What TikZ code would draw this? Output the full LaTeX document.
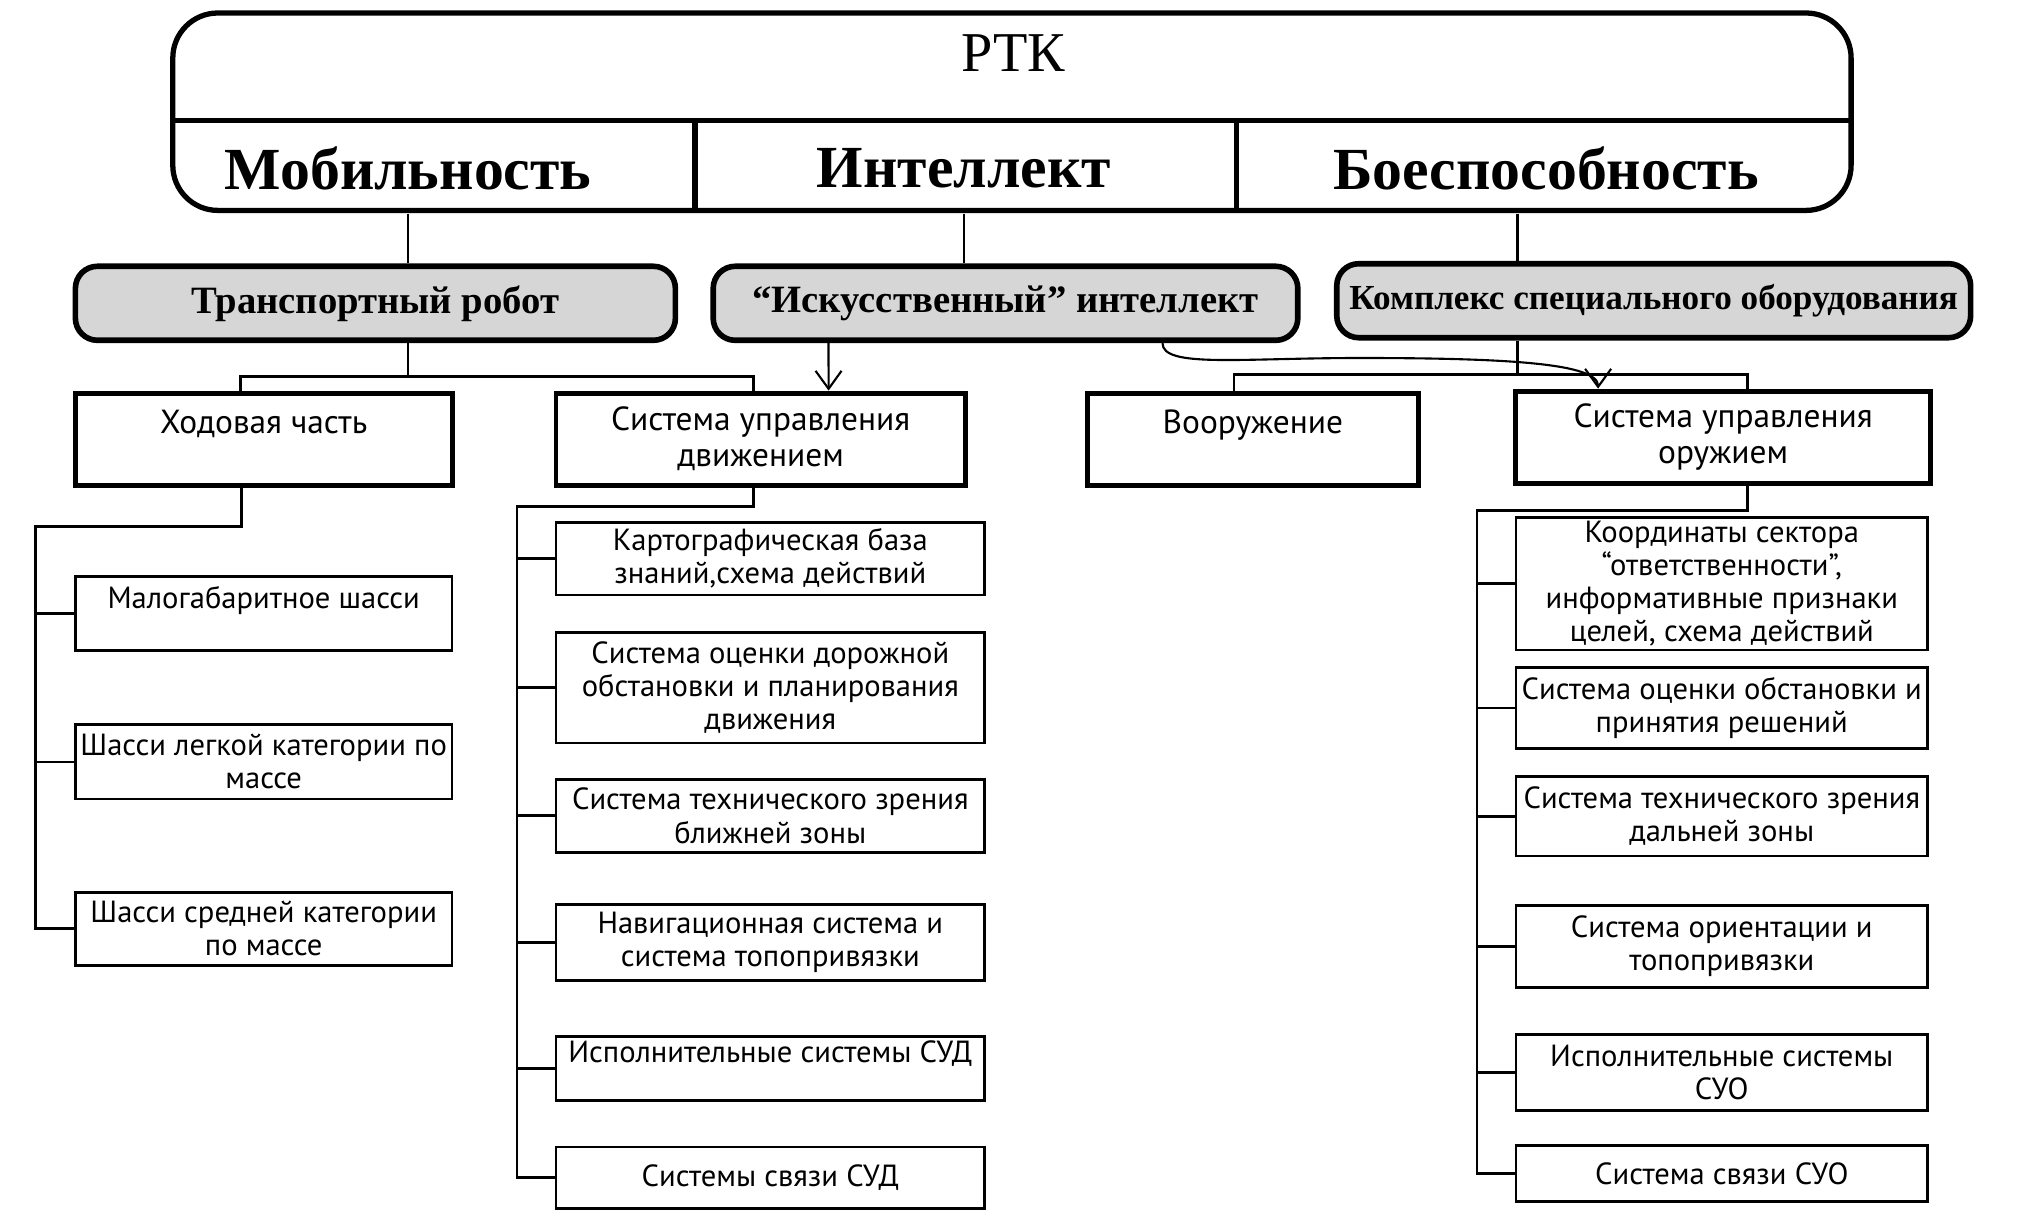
\documentclass[tikz,border=0pt]{standalone}
\usepackage{fontspec}
\setmainfont{Liberation Serif}
\newfontfamily\boxfont{PT Sans}
\usetikzlibrary{arrows.meta}
\begin{document}
\begin{tikzpicture}[
  frame/.style={line width=1.5pt},
  cat/.style={font=\bfseries\fontsize{17}{20}\selectfont, minimum height=0.896cm, inner sep=0pt},
  grp/.style={draw, line width=1.6pt, rounded corners=0.22cm, fill=gray!32, font=\bfseries\fontsize{11}{13}\selectfont, minimum height=0.74cm, inner sep=2pt},
  sys/.style={draw, line width=1.4pt, align=center, font=\boxfont\fontsize{9.5}{10.2}\selectfont, minimum height=0.92cm},
  sub/.style={draw, line width=0.8pt, align=center, font=\boxfont\fontsize{8.7}{9.4}\selectfont, inner sep=1pt},
  line/.style={line width=0.8pt},
  hand/.style={line width=0.6pt, -{Straight Barb[length=1.8mm, width=2.6mm]}}
]
\useasboundingbox (0,0) rectangle (20.37,-12.107);

% top block
\draw[frame, rounded corners=0.45cm] (1.728,-0.13) rectangle (18.511,-2.104);
\draw[frame] (1.728,-1.208) -- (18.511,-1.208);
\draw[frame] (6.95,-1.208) -- (6.95,-2.104);
\draw[frame] (12.366,-1.208) -- (12.366,-2.104);
\node[font=\fontsize{16}{19}\selectfont] (rtk) at (10.13,-0.53) {РТК};
\node[cat] (mob) at (4.08,-1.68) {Мобильность};
\node[cat] (intel) at (9.639,-1.68) {Интеллект};
\node[cat] (boe) at (15.46,-1.68) {Боеспособность};

% groups
\node[grp, minimum width=6.0cm] (trans) at (3.754,-3.033) {Транспортный робот};
\node[grp, minimum width=5.846cm] (ai) at (10.055,-3.033) {“Искусственный” интеллект};
\node[grp, minimum width=6.339cm, font=\bfseries\fontsize{10}{12}\selectfont] (kompl) at (16.537,-3.007) {Комплекс специального оборудования};

\coordinate (tj) at (4.08,-3.767);
\coordinate (kj) at (15.173,-3.741);
\draw[line] (mob.south) -- (mob.south |- trans.north);
\draw[line] (intel.south) -- (intel.south |- ai.north);
\draw[line] (boe.south -| kj) -- (kompl.north -| kj);

% systems
\node[sys, minimum width=3.767cm] (hod) at (2.637,-4.397) {Ходовая часть\\\phantom{Х}};
\node[sys, minimum width=4.092cm] (sud) at (7.606,-4.391) {Система управления\\движением};
\node[sys, minimum width=3.312cm] (vor) at (12.529,-4.397) {Вооружение\\\phantom{В}};
\node[sys, minimum width=4.144cm] (suo) at (17.231,-4.371) {Система управления\\оружием};

\draw[line] (trans.south -| tj) -- (tj);
\draw[line] ([xshift=-0.23cm]hod.north) |- (tj) -| ([xshift=-0.07cm]sud.north);
\draw[line] (kompl.south -| kj) -- (kj);
\draw[line] ([xshift=-0.19cm]vor.north) |- (kj) -| ([xshift=0.24cm]suo.north);

\draw[hand] ([xshift=-1.77cm]ai.south) -- ([xshift=0.68cm]sud.north);
\draw[hand] ([xshift=1.57cm]ai.south) .. controls +(0,-0.25) and +(-1.2,0) .. (13.6,-3.58)
  .. controls +(1.5,0) and +(0,0.25) .. ([xshift=-1.25cm]suo.north);

% chassis
\node[sub, minimum width=3.767cm, minimum height=0.74cm] (h1) at (2.637,-6.138) {Малогабаритное шасси\\\phantom{М}};
\node[sub, minimum width=3.767cm, minimum height=0.74cm] (h2) at (2.637,-7.619) {Шасси легкой категории по\\массе};
\node[sub, minimum width=3.767cm, minimum height=0.727cm] (h3) at (2.637,-9.288) {Шасси средней категории\\по массе};

\coordinate (hj) at (0.351,-5.261);
\draw[line] ([xshift=-0.22cm]hod.south) |- (hj) |- (h3.west);
\foreach \n in {h1,h2} \draw[line] (hj |- \n.west) -- (\n.west);

% motion control
\node[sub, minimum width=4.287cm, minimum height=0.727cm] (d1) at (7.703,-5.586) {Картографическая база\\знаний,схема действий};
\node[sub, minimum width=4.287cm, minimum height=1.104cm] (d2) at (7.703,-6.878) {Система оценки дорожной\\обстановки и планирования\\движения};
\node[sub, minimum width=4.287cm, minimum height=0.727cm] (d3) at (7.703,-8.158) {Система технического зрения\\ближней зоны};
\node[sub, minimum width=4.287cm, minimum height=0.766cm] (d4) at (7.703,-9.424) {Навигационная система и\\система топопривязки};
\node[sub, minimum width=4.287cm, minimum height=0.637cm] (d5) at (7.703,-10.685) {Исполнительные системы СУД\\\phantom{И}};
\node[sub, minimum width=4.287cm, minimum height=0.611cm] (d6) at (7.703,-11.776) {Системы связи СУД};

\coordinate (dj) at (5.170,-5.066);
\draw[line] ([xshift=-0.07cm]sud.south) |- (dj) |- (d6.west);
\foreach \n in {d1,d2,d3,d4,d5} \draw[line] (dj |- \n.west) -- (\n.west);

% weapon control
\node[sub, minimum width=4.118cm, minimum height=1.286cm] (o1) at (17.218,-5.839) {Координаты сектора\\“ответственности”,\\информативные признаки\\целей, схема действий};
\node[sub, minimum width=4.118cm, minimum height=0.805cm] (o2) at (17.218,-7.080) {Система оценки обстановки и\\принятия решений};
\node[sub, minimum width=4.118cm, minimum height=0.792cm] (o3) at (17.218,-8.164) {Система технического зрения\\дальней зоны};
\node[sub, minimum width=4.118cm, minimum height=0.818cm] (o4) at (17.218,-9.464) {Система ориентации и\\топопривязки};
\node[sub, minimum width=4.118cm, minimum height=0.766cm] (o5) at (17.218,-10.724) {Исполнительные системы\\СУО};
\node[sub, minimum width=4.118cm, minimum height=0.559cm] (o6) at (17.218,-11.737) {Система связи СУО};

\coordinate (oj) at (14.770,-5.105);
\draw[line] ([xshift=0.24cm]suo.south) |- (oj) |- (o6.west);
\foreach \n in {o1,o2,o3,o4,o5} \draw[line] (oj |- \n.west) -- (\n.west);
\end{tikzpicture}
\end{document}
